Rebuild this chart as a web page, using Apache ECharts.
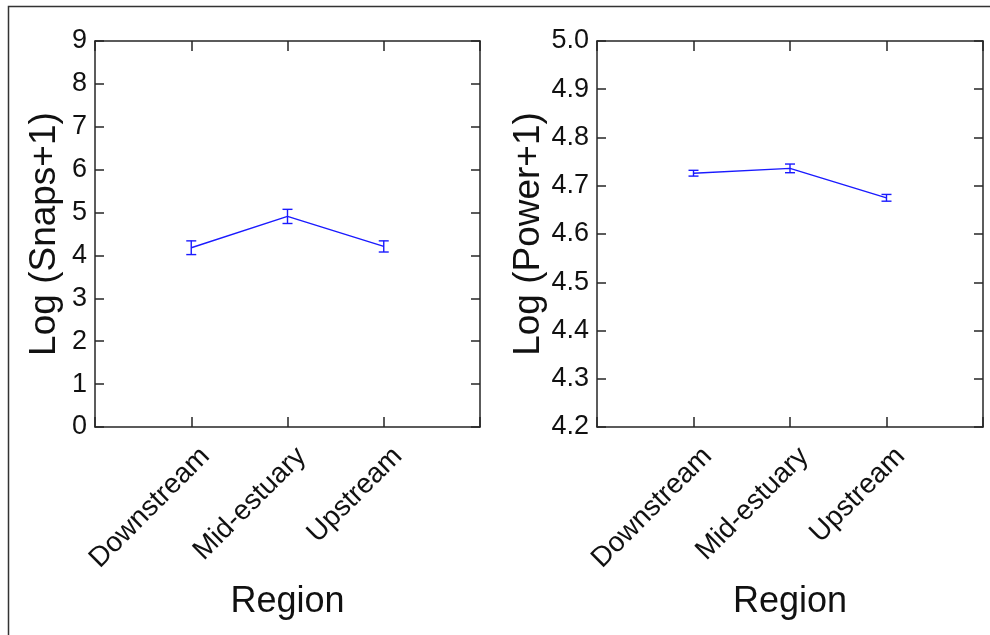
<!DOCTYPE html>
<html>
<head>
<meta charset="utf-8">
<script src="https://cdn.jsdelivr.net/npm/echarts@6/dist/echarts.min.js"></script>
<style>
html,body{margin:0;padding:0;background:#fff;}
#main{width:990px;height:635px;}
</style>
</head>
<body>
<div id="main"></div>
<script>
// ---- data ----
var categories = ['Downstream', 'Mid-estuary', 'Upstream'];
var snapsMean = [4.18, 4.91, 4.21];
var snapsErr = [0.16, 0.165, 0.13];
var powerMean = [4.726, 4.736, 4.675];
var powerErr = [0.006, 0.009, 0.007];
var snapsTicks = [0, 9, 1];      // min, max, interval
var powerTicks = [4.2, 5.0, 0.1];
var xTitle = 'Region';
var yTitleLeft = 'Log (Snaps+1)';
var yTitleRight = 'Log (Power+1)';

var FONT = 'Liberation Sans, Arial, sans-serif';
var AX = '#262626';
var BLUE = '#1a1aff';

var chart = echarts.init(document.getElementById('main'));

function lineData(means) {
  return means.map(function (m, i) { return [i + 1, m]; });
}
function errData(means, errs) {
  return means.map(function (m, i) { return [i + 1, m - errs[i], m + errs[i]]; });
}
function renderErr(params, api) {
  var x = api.value(0);
  var lo = api.coord([x, api.value(1)]);
  var hi = api.coord([x, api.value(2)]);
  var hw = 5;
  var st = { stroke: BLUE, lineWidth: 1.4, fill: null };
  return {
    type: 'group',
    children: [
      { type: 'line', shape: { x1: lo[0], y1: lo[1], x2: hi[0], y2: hi[1] }, style: st },
      { type: 'line', shape: { x1: lo[0] - hw, y1: lo[1], x2: lo[0] + hw, y2: lo[1] }, style: st },
      { type: 'line', shape: { x1: hi[0] - hw, y1: hi[1], x2: hi[0] + hw, y2: hi[1] }, style: st }
    ]
  };
}

function xAxes(gi) {
  return [
    {
      type: 'value', gridIndex: gi, position: 'bottom', min: 0, max: 4, interval: 1,
      name: xTitle, nameLocation: 'middle', nameGap: 156,
      nameTextStyle: { fontFamily: FONT, fontSize: 36, color: '#111' },
      axisLine: { show: true, onZero: false, lineStyle: { color: AX, width: 1.5 } },
      axisTick: { show: true, inside: true, length: 10, lineStyle: { color: AX, width: 1.5 } },
      splitLine: { show: false },
      axisLabel: {
        show: true, rotate: 45, margin: 11, fontFamily: FONT, fontSize: 28, color: '#111',
        verticalAlign: 'top', lineHeight: 40,
        formatter: function (v) { return categories[v - 1] || ''; }
      }
    },
    {
      type: 'value', gridIndex: gi, position: 'top', min: 0, max: 4, interval: 1,
      axisLine: { show: true, onZero: false, lineStyle: { color: AX, width: 1.5 } },
      axisTick: { show: true, inside: true, length: 10, lineStyle: { color: AX, width: 1.5 } },
      splitLine: { show: false }, axisLabel: { show: false }
    }
  ];
}
function yAxes(gi, t, title, dec) {
  return [
    {
      type: 'value', gridIndex: gi, position: 'left', min: t[0], max: t[1], interval: t[2],
      name: title, nameLocation: 'middle', nameGap: dec ? 47 : 32,
      nameTextStyle: { fontFamily: FONT, fontSize: 37, color: '#111' },
      axisLine: { show: true, onZero: false, lineStyle: { color: AX, width: 1.5 } },
      axisTick: { show: true, inside: true, length: 9, lineStyle: { color: AX, width: 1.5 } },
      splitLine: { show: false },
      axisLabel: {
        show: true, margin: 8, fontFamily: FONT, fontSize: 27, color: '#111',
        formatter: function (v) { return dec ? v.toFixed(1) : String(Math.round(v)); }
      }
    },
    {
      type: 'value', gridIndex: gi, position: 'right', min: t[0], max: t[1], interval: t[2],
      axisLine: { show: true, onZero: false, lineStyle: { color: AX, width: 1.5 } },
      axisTick: { show: true, inside: true, length: 9, lineStyle: { color: AX, width: 1.5 } },
      splitLine: { show: false }, axisLabel: { show: false }
    }
  ];
}

var option = {
  animation: false,
  backgroundColor: '#fff',
  grid: [
    { left: 95, top: 41, width: 385, height: 386, outerBoundsMode: 'none', containLabel: false },
    { left: 597, top: 41, width: 386, height: 386, outerBoundsMode: 'none', containLabel: false }
  ],
  xAxis: xAxes(0).concat(xAxes(1)),
  yAxis: yAxes(0, snapsTicks, yTitleLeft, false).concat(yAxes(1, powerTicks, yTitleRight, true)),
  series: [
    { type: 'line', xAxisIndex: 0, yAxisIndex: 0, data: lineData(snapsMean), showSymbol: false,
      lineStyle: { color: BLUE, width: 1.4 }, itemStyle: { color: BLUE } },
    { type: 'custom', xAxisIndex: 0, yAxisIndex: 0, data: errData(snapsMean, snapsErr), renderItem: renderErr },
    { type: 'line', xAxisIndex: 2, yAxisIndex: 2, data: lineData(powerMean), showSymbol: false,
      lineStyle: { color: BLUE, width: 1.4 }, itemStyle: { color: BLUE } },
    { type: 'custom', xAxisIndex: 2, yAxisIndex: 2, data: errData(powerMean, powerErr), renderItem: renderErr }
  ],
  graphic: [
    { type: 'polyline', silent: true, shape: { points: [[8.5, 640], [8.5, 6.5], [995, 6.5]] },
      style: { stroke: '#333', lineWidth: 1.5, fill: null } }
  ]
};
chart.setOption(option);
</script>
</body>
</html>
